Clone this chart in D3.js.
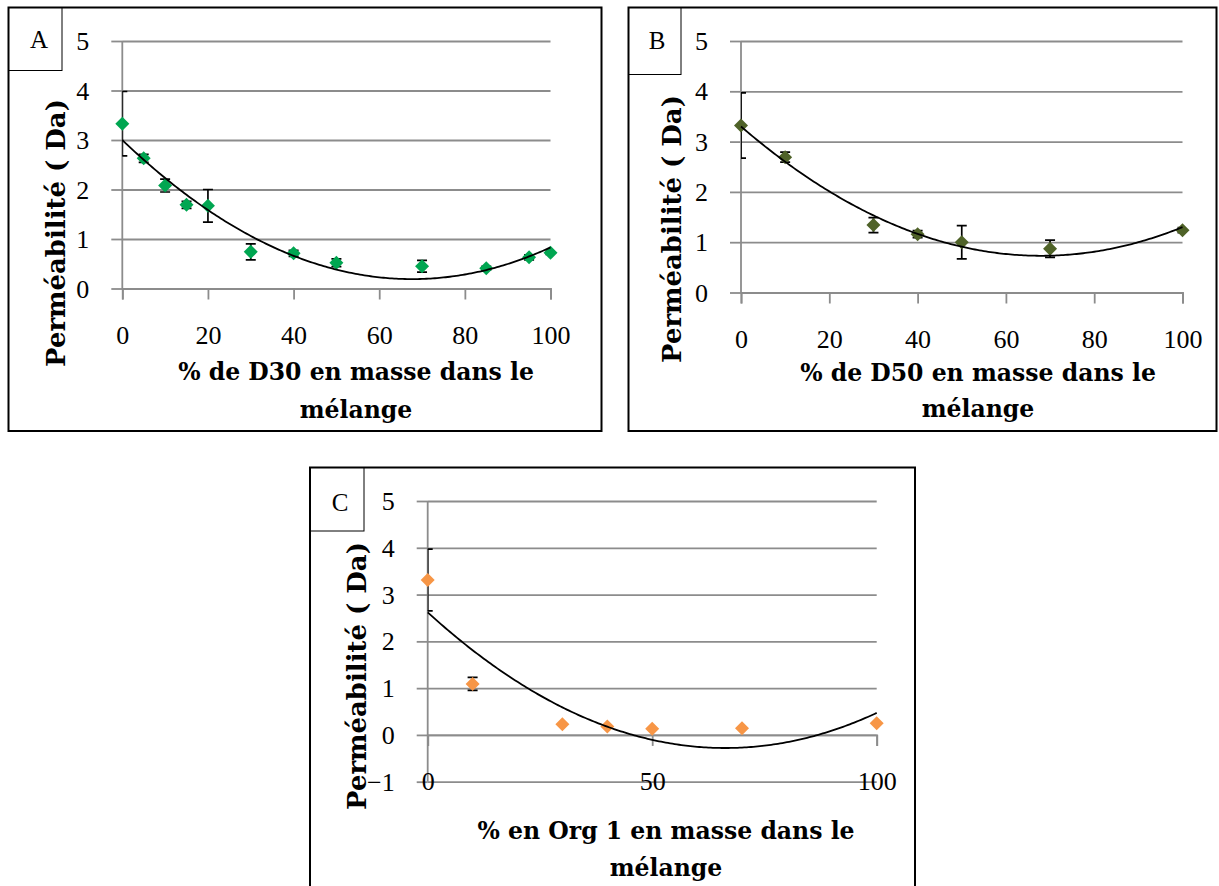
<!DOCTYPE html>
<html>
<head>
<meta charset="utf-8">
<script src="https://cdn.jsdelivr.net/npm/d3@7"></script>
<style>
html,body{margin:0;padding:0;background:#fff;}
svg{display:block;}
</style>
</head>
<body>
<svg id="chart" width="1219" height="886"></svg>
<script>
// ---------- DATA ----------
const panelLabels = ["A", "B", "C"];
const xTitles = ["% de D30 en masse dans le", "% de D50 en masse dans le", "% en Org 1 en masse dans le"];
const xTitle2 = "mélange";
const yTitle = "Perméabilité ( Da)";

const aX = [0, 5, 10, 15, 20, 30, 40, 50, 70, 85, 95, 100];
const aY = [3.33, 2.63, 2.08, 1.69, 1.67, 0.74, 0.71, 0.52, 0.45, 0.41, 0.63, 0.72];
const aErr = [0.65, 0.08, 0.13, 0.07, 0.33, 0.16, 0.06, 0.08, 0.12, 0.04, 0.05, 0.03];
const aTrend = [3.0, -0.08302, 0.0006132];

const bX = [0, 10, 30, 40, 50, 70, 100];
const bY = [3.32, 2.69, 1.34, 1.16, 1.0, 0.87, 1.24];
const bErr = [0.65, 0.10, 0.15, 0.07, 0.33, 0.17, 0.05];
const bTrend = [3.30, -0.07561, 0.0005561];

const cX = [0, 10, 30, 40, 50, 70, 100];
const cY = [3.31, 1.09, 0.23, 0.18, 0.13, 0.14, 0.25];
const cErr = [0.66, 0.14, 0, 0, 0, 0, 0];
const cTrend = [2.62, -0.087496, 0.00065996];

const yTicksAB = [0, 1, 2, 3, 4, 5];
const yTicksC = [-1, 0, 1, 2, 3, 4, 5];
const xTicksAB = [0, 20, 40, 60, 80, 100];
const xTicksC = [0, 50, 100];

// ---------- STYLE / LAYOUT ----------
const colors = ["#00a651", "#4f6228", "#f79646"];
const gridColor = "#8c8c8c";
const tickFont = "'Liberation Serif', serif";
const titleFont = "'DejaVu Serif', serif";
const tickSize = 26;

const svg = d3.select("#chart");

// measure title font sizes so widths match the reference
function fitSize(text, target, family, weight) {
  const t = svg.append("text").attr("font-family", family).attr("font-weight", weight)
    .attr("font-size", 20).text(text);
  const w = t.node().getComputedTextLength();
  t.remove();
  return 20 * target / w;
}
const xTitleSize = fitSize(xTitles[0], 356, titleFont, "bold");
const yTitleSize = fitSize(yTitle, 268, titleFont, "bold");

const panels = [
  {label: panelLabels[0], xs: aX, ys: aY, err: aErr, trend: aTrend, color: colors[0],
   box: [8.5, 7.5, 593, 423.5], lbox: [8.5, 7.5, 53.5, 63], lText: [39, 48],
   xr: [122.3, 550.5], yd: [0, 5], yr: [288.5, 41], yTicks: yTicksAB, xTicks: xTicksAB,
   xTitle: xTitles[0], xtc: 356, xtb: [380, 418], ytx: 65, yty: 233},
  {label: panelLabels[1], xs: bX, ys: bY, err: bErr, trend: bTrend, color: colors[1],
   box: [628.5, 7.5, 588, 423.5], lbox: [628.5, 7.5, 52.5, 67], lText: [657, 49],
   xr: [741, 1182.5], yd: [0, 5], yr: [292.5, 41], yTicks: yTicksAB, xTicks: xTicksAB,
   xTitle: xTitles[1], xtc: 978, xtb: [381, 417], ytx: 681, yty: 229},
  {label: panelLabels[2], xs: cX, ys: cY, err: cErr, trend: cTrend, color: colors[2],
   box: [310, 467.5, 605, 440], lbox: [310, 467.5, 54, 63.5], lText: [340, 511],
   xr: [427.7, 876.7], yd: [-1, 5], yr: [781.7, 501], yTicks: yTicksC, xTicks: xTicksC,
   xTitle: xTitles[2], xtc: 666, xtb: [839, 876], ytx: 366, yty: 676}
];

panels.forEach((p, i) => {
  const g = svg.append("g");
  const x = d3.scaleLinear().domain([0, 100]).range(p.xr);
  const y = d3.scaleLinear().domain(p.yd).range(p.yr);
  const w = p.xr[1] - p.xr[0];

  // outer border
  g.append("rect").attr("x", p.box[0]).attr("y", p.box[1]).attr("width", p.box[2]).attr("height", p.box[3])
    .attr("fill", "#fff").attr("stroke", "#000").attr("stroke-width", 2);
  // label box
  g.append("rect").attr("x", p.lbox[0]).attr("y", p.lbox[1]).attr("width", p.lbox[2]).attr("height", p.lbox[3])
    .attr("fill", "none").attr("stroke", "#000").attr("stroke-width", 1);
  g.append("text").attr("x", p.lText[0]).attr("y", p.lText[1]).attr("text-anchor", "middle")
    .attr("font-family", tickFont).attr("font-size", 25).text(p.label);

  // gridlines
  const grid = g.append("g").attr("transform", `translate(${p.xr[0]},0)`)
    .call(d3.axisLeft(y).tickValues(p.yTicks).tickSize(-w).tickFormat(""));
  grid.select(".domain").remove();
  grid.selectAll("line").attr("stroke", gridColor).attr("stroke-width", 1.8);

  // y axis ticks + labels
  const ya = g.append("g").attr("transform", `translate(${p.xr[0]},0)`)
    .attr("font-family", tickFont).attr("font-size", tickSize)
    .call(d3.axisLeft(y).tickValues(p.yTicks).tickSize(11).tickPadding(22).tickFormat(d3.format("d")));
  ya.attr("font-family", tickFont).attr("font-size", tickSize);
  ya.select(".domain").remove();
  ya.selectAll("line").attr("stroke", gridColor).attr("stroke-width", 1.8);
  ya.selectAll("text").attr("fill", "#000").attr("dy", "0.33em");

  // y axis line
  g.append("line").attr("x1", x(0)).attr("x2", x(0)).attr("y1", y(p.yd[0])).attr("y2", y(p.yd[1]))
    .attr("stroke", gridColor).attr("stroke-width", 1.8);

  // x axis at y=0
  const xa = g.append("g").attr("transform", `translate(0,${y(0)})`)
    .call(d3.axisBottom(x).tickValues(p.xTicks).tickSize(11).tickPadding(26).tickFormat(d3.format("d")));
  xa.attr("font-family", tickFont).attr("font-size", tickSize);
  xa.select(".domain").attr("stroke", gridColor).attr("stroke-width", 1.8);
  xa.selectAll("line").attr("stroke", gridColor).attr("stroke-width", 1.8);
  xa.selectAll("text").attr("fill", "#000");

  // clip for error bars
  const clipId = "clip" + i;
  svg.append("clipPath").attr("id", clipId).append("rect")
    .attr("x", p.xr[0]).attr("y", p.yr[1] - 2).attr("width", w + 2).attr("height", p.yr[0] - p.yr[1] + 4);

  const data = p.xs.map((xv, k) => ({x: xv, y: p.ys[k], e: p.err[k]}));

  // error bars
  const eb = g.append("g").attr("clip-path", `url(#${clipId})`).attr("stroke", "#000").attr("stroke-width", 1.7);
  data.filter(d => d.e > 0).forEach(d => {
    eb.append("line").attr("x1", x(d.x)).attr("x2", x(d.x)).attr("y1", y(d.y - d.e)).attr("y2", y(d.y + d.e));
    [d.y - d.e, d.y + d.e].forEach(v => {
      eb.append("line").attr("x1", x(d.x) - 5).attr("x2", x(d.x) + 5).attr("y1", y(v)).attr("y2", y(v));
    });
  });

  // markers (diamonds)
  const r = 7;
  g.append("g").selectAll("path").data(data).join("path")
    .attr("d", d => {
      const cx = x(d.x), cy = y(d.y);
      return `M${cx},${cy - r}L${cx + r},${cy}L${cx},${cy + r}L${cx - r},${cy}Z`;
    })
    .attr("fill", p.color);

  // polynomial trendline
  const tx = d3.range(0, 100.5, 0.5);
  const poly = v => p.trend[0] + p.trend[1] * v + p.trend[2] * v * v;
  g.append("path").datum(tx)
    .attr("d", d3.line().x(v => x(v)).y(v => y(poly(v))))
    .attr("fill", "none").attr("stroke", "#000").attr("stroke-width", 1.8);

  // x title
  g.append("text").attr("x", p.xtc).attr("y", p.xtb[0]).attr("text-anchor", "middle")
    .attr("font-family", titleFont).attr("font-weight", "bold").attr("font-size", xTitleSize).text(p.xTitle);
  g.append("text").attr("x", p.xtc).attr("y", p.xtb[1]).attr("text-anchor", "middle")
    .attr("font-family", titleFont).attr("font-weight", "bold").attr("font-size", xTitleSize).text(xTitle2);

  // y title
  g.append("text").attr("transform", `translate(${p.ytx},${p.yty}) rotate(-90)`).attr("text-anchor", "middle")
    .attr("font-family", titleFont).attr("font-weight", "bold").attr("font-size", yTitleSize).text(yTitle);
});
</script>
</body>
</html>
